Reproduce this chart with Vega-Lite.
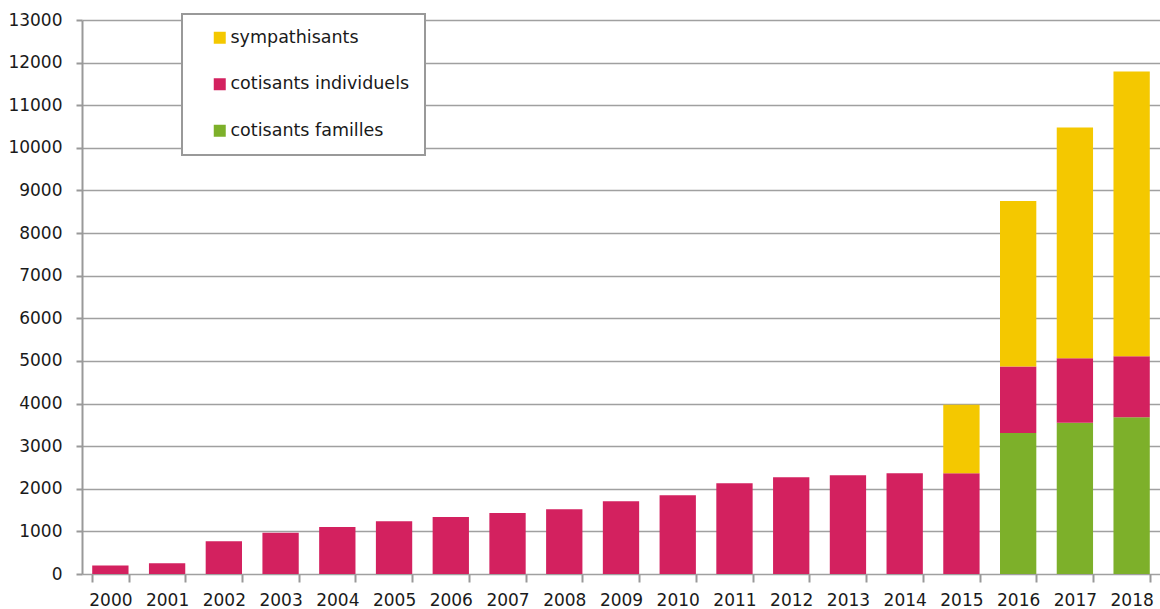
{
  "$schema": "https://vega.github.io/schema/vega-lite/v6.json",
  "width": 1078,
  "height": 554,
  "autosize": {"type": "none"},
  "padding": {"left": 82, "top": 20, "right": 0, "bottom": 35},
  "background": "white",
  "config": {
    "view": {"stroke": null},
    "font": "DejaVu Sans",
    "axis": {
      "labelFont": "DejaVu Sans",
      "labelFontSize": 17,
      "labelColor": "#1a1a1a",
      "domainColor": "#999999",
      "domainWidth": 2,
      "tickColor": "#999999",
      "tickWidth": 2,
      "gridColor": "#a0a0a0",
      "gridWidth": 1.6,
      "title": null
    },
    "legend": {
      "labelFont": "DejaVu Sans",
      "labelFontSize": 17.5,
      "labelColor": "#1a1a1a"
    }
  },
  "data": {
    "values": [
      {"annee": "2000", "serie": "cotisants individuels", "valeur": 200},
      {"annee": "2001", "serie": "cotisants individuels", "valeur": 250},
      {"annee": "2002", "serie": "cotisants individuels", "valeur": 770},
      {"annee": "2003", "serie": "cotisants individuels", "valeur": 970},
      {"annee": "2004", "serie": "cotisants individuels", "valeur": 1100},
      {"annee": "2005", "serie": "cotisants individuels", "valeur": 1240},
      {"annee": "2006", "serie": "cotisants individuels", "valeur": 1340},
      {"annee": "2007", "serie": "cotisants individuels", "valeur": 1430},
      {"annee": "2008", "serie": "cotisants individuels", "valeur": 1520},
      {"annee": "2009", "serie": "cotisants individuels", "valeur": 1710},
      {"annee": "2010", "serie": "cotisants individuels", "valeur": 1850},
      {"annee": "2011", "serie": "cotisants individuels", "valeur": 2130},
      {"annee": "2012", "serie": "cotisants individuels", "valeur": 2270},
      {"annee": "2013", "serie": "cotisants individuels", "valeur": 2320},
      {"annee": "2014", "serie": "cotisants individuels", "valeur": 2365},
      {"annee": "2015", "serie": "cotisants individuels", "valeur": 2365},
      {"annee": "2015", "serie": "sympathisants", "valeur": 1605},
      {"annee": "2016", "serie": "cotisants familles", "valeur": 3310},
      {"annee": "2016", "serie": "cotisants individuels", "valeur": 1560},
      {"annee": "2016", "serie": "sympathisants", "valeur": 3880},
      {"annee": "2017", "serie": "cotisants familles", "valeur": 3550},
      {"annee": "2017", "serie": "cotisants individuels", "valeur": 1510},
      {"annee": "2017", "serie": "sympathisants", "valeur": 5420},
      {"annee": "2018", "serie": "cotisants familles", "valeur": 3680},
      {"annee": "2018", "serie": "cotisants individuels", "valeur": 1430},
      {"annee": "2018", "serie": "sympathisants", "valeur": 6680}
    ]
  },
  "mark": {"type": "bar"},
  "encoding": {
    "x": {
      "field": "annee",
      "type": "ordinal",
      "scale": {"paddingInner": 0.36, "paddingOuter": 0.18},
      "axis": {
        "labelAngle": 0,
        "tickBand": "extent",
        "tickSize": 8,
        "labelPadding": 10,
        "domain": false,
        "grid": false
      }
    },
    "y": {
      "field": "valeur",
      "type": "quantitative",
      "aggregate": "sum",
      "stack": "zero",
      "scale": {"domain": [0, 13000], "nice": false},
      "axis": {
        "values": [0, 1000, 2000, 3000, 4000, 5000, 6000, 7000, 8000, 9000, 10000, 11000, 12000, 13000],
        "format": "d",
        "tickSize": 6,
        "labelPadding": 14,
        "grid": true,
        "domain": true
      }
    },
    "color": {
      "field": "serie",
      "type": "nominal",
      "scale": {
        "domain": ["sympathisants", "cotisants individuels", "cotisants familles"],
        "range": ["#F4C800", "#D3215F", "#7DB02A"]
      },
      "legend": {
        "title": null,
        "orient": "none",
        "legendX": 100,
        "legendY": -6,
        "direction": "vertical",
        "fillColor": "white",
        "strokeColor": "#999999",
        "padding": 15,
        "rowPadding": 27.5,
        "symbolType": "square",
        "symbolSize": 144,
        "symbolStrokeWidth": 0,
        "symbolOpacity": 1,
        "symbolOffset": 14,
        "labelOffset": 2,
        "labelLimit": 400,
        "encode": {"legend": {"update": {"strokeWidth": {"value": 2}}}}
      }
    },
    "order": {"field": "serie", "sort": "ascending"}
  }
}
